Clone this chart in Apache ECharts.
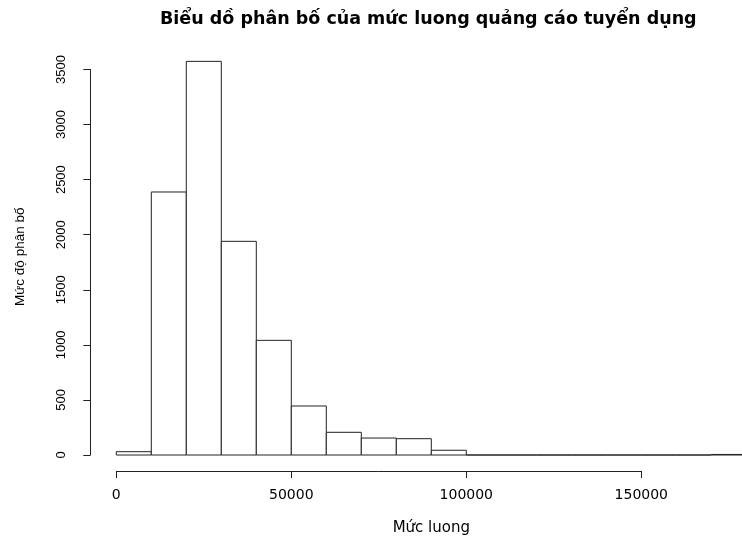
<!DOCTYPE html>
<html>
<head>
<meta charset="utf-8">
<script src="https://cdn.jsdelivr.net/npm/echarts@6/dist/echarts.min.js"></script>
<style>
html,body{margin:0;padding:0;background:#fff;}
#chart{width:742px;height:537px;}
</style>
</head>
<body>
<div id="chart"></div>
<script>
// Histogram data (salary bins, width 10000)
const binEdges = [0, 10000, 20000, 30000, 40000, 50000, 60000, 70000, 80000, 90000,
                  100000, 110000, 120000, 130000, 140000, 150000, 160000, 170000, 180000];
const counts = [30, 2388, 3574, 1940, 1041, 445, 206, 154, 148, 43,
                0, 0, 0, 0, 0, 0, 0, 5];
const xTicks = [0, 50000, 100000, 150000];
const yTicks = [0, 500, 1000, 1500, 2000, 2500, 3000, 3500];
const titleText = 'Biểu dồ phân bố của mức luong quảng cáo tuyển dụng';
const xName = 'Mức luong';
const yName = 'Mức độ phân bố';

const histData = counts.map((c, i) => [binEdges[i], binEdges[i + 1], c]);

const chart = echarts.init(document.getElementById('chart'), null, {renderer: 'canvas'});
const lineCol = '#222';
const gridBase = {containLabel: false, outerBoundsMode: 'none'};
const option = {
  backgroundColor: '#fff',
  animation: false,
  title: {
    text: titleText,
    left: 155,
    top: 5,
    textStyle: {fontFamily: 'DejaVu Sans', fontWeight: 'bold', fontSize: 17.5, color: '#000'}
  },
  grid: [
    Object.assign({left: 116.3, width: 630, top: 58.5, height: 396.5}, gridBase),
    Object.assign({left: 116.3, width: 630, top: 69.5, height: 385.5}, gridBase),
    Object.assign({left: 116.3, width: 525, top: 69.5, height: 385.5}, gridBase)
  ],
  xAxis: [
    {gridIndex: 0, type: 'value', min: binEdges[0], max: binEdges[binEdges.length - 1],
     axisLine: {show: false}, axisTick: {show: false}, axisLabel: {show: false}, splitLine: {show: false},
     name: xName, nameLocation: 'middle', nameGap: 66,
     nameTextStyle: {fontFamily: 'DejaVu Sans', fontSize: 15, color: '#000'}},
    {gridIndex: 1, type: 'value', show: false, min: 0, max: 180000},
    {gridIndex: 2, type: 'value', min: xTicks[0], max: xTicks[xTicks.length - 1], interval: 50000,
     offset: 16, position: 'bottom',
     axisLine: {show: true, onZero: false, lineStyle: {color: lineCol, width: 1}},
     axisTick: {show: true, length: 7, lineStyle: {color: lineCol}},
     axisLabel: {show: true, margin: 17, fontFamily: 'DejaVu Sans', fontSize: 14, color: '#000',
                 formatter: v => String(v)},
     splitLine: {show: false}}
  ],
  yAxis: [
    {gridIndex: 0, type: 'value', min: 0, max: 3600,
     axisLine: {show: false}, axisTick: {show: false}, axisLabel: {show: false}, splitLine: {show: false},
     name: yName, nameLocation: 'middle', nameGap: 89, nameRotate: 90,
     nameTextStyle: {fontFamily: 'Liberation Sans', fontSize: 13.5, color: '#000'}},
    {gridIndex: 1, type: 'value', min: yTicks[0], max: yTicks[yTicks.length - 1], interval: 500,
     offset: 26, position: 'left',
     axisLine: {show: true, onZero: false, lineStyle: {color: lineCol, width: 1}},
     axisTick: {show: true, length: 7, lineStyle: {color: lineCol}},
     axisLabel: {show: true, rotate: 90, margin: 22, fontFamily: 'Liberation Sans', fontSize: 13, color: '#000',
                 formatter: v => String(v)},
     splitLine: {show: false}},
    {gridIndex: 2, type: 'value', show: false, min: 0, max: 3500}
  ],
  series: [{
    type: 'custom',
    xAxisIndex: 0,
    yAxisIndex: 0,
    clip: false,
    data: histData,
    renderItem: function (params, api) {
      const p0 = api.coord([api.value(0), 0]);
      const p1 = api.coord([api.value(1), api.value(2)]);
      return {
        type: 'rect',
        shape: {x: p0[0], y: p1[1], width: p1[0] - p0[0], height: p0[1] - p1[1]},
        style: {fill: '#fff', stroke: lineCol, lineWidth: 1}
      };
    }
  }]
};
chart.setOption(option);
</script>
</body>
</html>
